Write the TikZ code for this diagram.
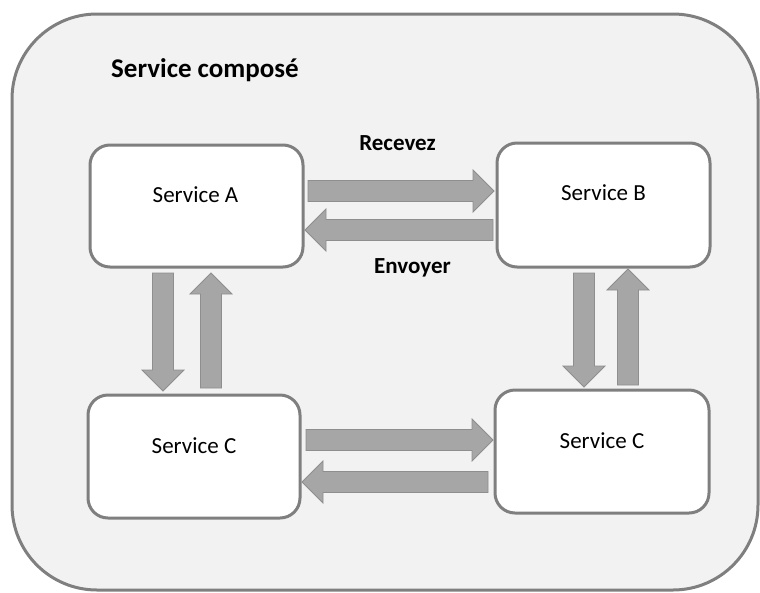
\documentclass[tikz,border=0pt]{standalone}
\usepackage{fontspec}
\setmainfont{Carlito}
\usetikzlibrary{calc}

\definecolor{panelfill}{HTML}{F2F2F2}
\definecolor{frameline}{HTML}{7F7F7F}
\definecolor{arrowfill}{HTML}{A6A6A6}
\definecolor{arrowline}{HTML}{8E8E8E}

\tikzset{
  servicebox/.style={draw=frameline, line width=3pt, fill=white,
    rounded corners=20pt, inner sep=0pt, outer sep=0pt},
  servicetext/.style={font=\fontsize{23}{27}\selectfont, text=black, inner sep=0pt},
  flowlabel/.style={font=\bfseries\fontsize{23}{27}\selectfont, text=black, inner sep=0pt},
  blockarrow/.style={fill=arrowfill, draw=arrowline, line width=0.8pt, line join=miter},
}

% Wide block arrow from #1 to #2 (shaft half-width 10.5pt, head 21pt wide/long)
\newcommand\blockarr[2]{%
  \draw[blockarrow] let \p1=(#1), \p2=(#2),
      \n1={veclen(\x2-\x1,\y2-\y1)}, \n2={atan2(\y2-\y1,\x2-\x1)} in
    [shift={(\p1)}, rotate=\n2]
    (0pt,-10.5pt) -- ({\n1*1pt-21pt},-10.5pt) -- ({\n1*1pt-21pt},-21pt)
    -- ({\n1*1pt},0pt) -- ({\n1*1pt-21pt},21pt) -- ({\n1*1pt-21pt},10.5pt)
    -- (0pt,10.5pt) -- cycle;}

\begin{document}
\begin{tikzpicture}[x=1pt,y=-1pt]
  \useasboundingbox (0,0) rectangle (760,592);

  % composite service frame
  \draw[draw=frameline, fill=panelfill, line width=3pt, rounded corners=85pt]
    (12,14) rectangle (758,590);
  \node[anchor=west, font=\bfseries\fontsize{27}{32}\selectfont, inner sep=0pt]
    (title) at (111,70) {Service composé};

  % services
  \node[servicebox, minimum width=213pt, minimum height=122pt] (A)  at (196.5,206) {};
  \node[servicebox, minimum width=213pt, minimum height=124pt] (B)  at (603.5,205) {};
  \node[servicebox, minimum width=212pt, minimum height=123pt] (C1) at (194,456.5) {};
  \node[servicebox, minimum width=214pt, minimum height=123pt] (C2) at (602,451.5) {};

  \node[servicetext] (tA)  at ($(A.center)+(-1,-11)$)  {Service A};
  \node[servicetext] (tB)  at ($(B.center)+(0,-12)$)  {Service B};
  \node[servicetext] (tC1) at ($(C1.center)+(0,-11)$) {Service C};
  \node[servicetext] (tC2) at ($(C2.center)+(0,-11)$) {Service C};

  % arrow end points
  \coordinate (ab1) at ($(A.east)+(5,-15)$);
  \coordinate (ab2) at ($(B.west)+(-3,-14)$);
  \coordinate (ba1) at ($(B.west)+(-4,25)$);
  \coordinate (ba2) at ($(A.east)+(2,24)$);

  \coordinate (ac1) at ($(A.south)+(-33.5,6)$);
  \coordinate (ac2) at ($(C1.north)+(-31,-4)$);
  \coordinate (ca1) at ($(C1.north)+(17,-7)$);
  \coordinate (ca2) at ($(A.south)+(14.5,6)$);

  \coordinate (bc1) at ($(B.south)+(-19.5,6)$);
  \coordinate (bc2) at ($(C2.north)+(-18,-3)$);
  \coordinate (cb1) at ($(C2.north)+(26,-5)$);
  \coordinate (cb2) at ($(B.south)+(24.5,2)$);

  \coordinate (cc1) at ($(C1.east)+(6,-16.5)$);
  \coordinate (cc2) at ($(C2.west)+(-2,-11.5)$);
  \coordinate (dd1) at ($(C2.west)+(-7,30.5)$);
  \coordinate (dd2) at ($(C1.east)+(2,25.5)$);

  \blockarr{ab1}{ab2}
  \blockarr{ba1}{ba2}
  \blockarr{ac1}{ac2}
  \blockarr{ca1}{ca2}
  \blockarr{bc1}{bc2}
  \blockarr{cb1}{cb2}
  \blockarr{cc1}{cc2}
  \blockarr{dd1}{dd2}

  % flow labels
  \node[flowlabel] (recv) at (397.5,143) {Recevez};
  \node[flowlabel] (send) at (412.5,268) {Envoyer};
\end{tikzpicture}
\end{document}
